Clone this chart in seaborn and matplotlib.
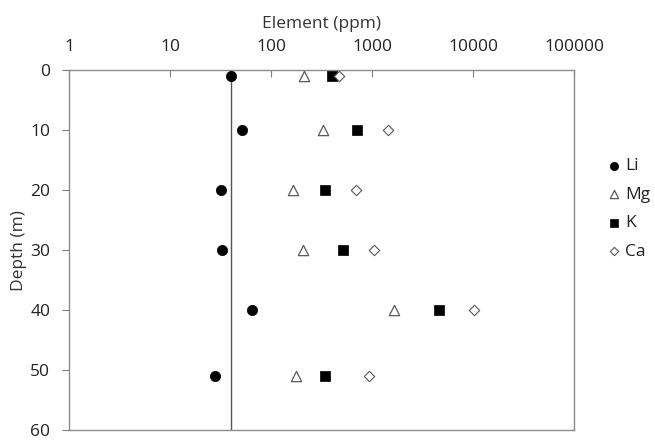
import matplotlib
matplotlib.use("Agg")
import matplotlib.pyplot as plt
import seaborn as sns
import pandas as pd
from matplotlib.ticker import FixedLocator, FixedFormatter, NullLocator

# ---- data ----
depth = [1, 10, 20, 30, 40, 51]
li = [40, 52, 32, 33, 65, 28]
mg = [212, 327, 167, 209, 1637, 175]
k = [402, 710, 342, 516, 4607, 340]
ca = [467, 1428, 700, 1038, 10300, 940]
elements = ["Li", "Mg", "K", "Ca"]
line_x = [40, 40]
line_depth = [0, 60]
x_ticks = [1, 10, 100, 1000, 10000, 100000]
x_tick_labels = ["1", "10", "100", "1000", "10000", "100000"]
y_ticks = [0, 10, 20, 30, 40, 50, 60]

sns.set_theme(style="white")
plt.rcParams["font.family"] = ["Open Sans", "DejaVu Sans"]

FS = 12.5
fig = plt.figure(figsize=(6.55, 4.41), dpi=100)
ax = fig.add_axes([0.1053, 0.024, 0.771, 0.817])

series = {"Li": li, "Mg": mg, "K": k, "Ca": ca}
styles = {
    "Li": dict(marker="o", s=55, color="black", edgecolor="black", linewidth=0.5),
    "Mg": dict(marker="^", s=55, color="white", edgecolor="#5a5a5a", linewidth=0.9),
    "K": dict(marker="s", s=50, color="black", edgecolor="black", linewidth=0.5),
    "Ca": dict(marker="D", s=28, color="white", edgecolor="#5a5a5a", linewidth=0.8),
}

ax.plot(line_x, line_depth, color="#555555", linewidth=1.0, zorder=1)

for name in elements:
    df = pd.DataFrame({"x": series[name], "depth": depth})
    sns.scatterplot(data=df, x="x", y="depth", ax=ax, label=name, zorder=3,
                    **styles[name])

ax.set_xscale("log")
ax.set_xlim(1, 100000)
ax.set_ylim(60, 0)
ax.xaxis.set_major_locator(FixedLocator(x_ticks))
ax.xaxis.set_major_formatter(FixedFormatter(x_tick_labels))
ax.xaxis.set_minor_locator(NullLocator())
ax.set_yticks(y_ticks)

ax.xaxis.tick_top()
ax.xaxis.set_label_position("top")
ax.set_xlabel("Element (ppm)", fontsize=FS, color="#333333", labelpad=8)
ax.set_ylabel("Depth (m)", fontsize=FS, color="#333333", labelpad=2)

ax.tick_params(axis="x", which="major", direction="in", length=5, width=0.8,
               color="#7f7f7f", labelsize=FS, labelcolor="#222222", pad=11,
               top=True, bottom=False)
ax.tick_params(axis="y", which="major", direction="out", length=5, width=0.8,
               color="#7f7f7f", labelsize=FS, labelcolor="#222222", pad=8.5,
               left=True)

for sp in ax.spines.values():
    sp.set_color("#8c8c8c")
    sp.set_linewidth(1.0)

leg = ax.legend(loc="upper left", bbox_to_anchor=(1.037, 0.79), frameon=False,
                fontsize=FS, handletextpad=0.05, labelspacing=0.72,
                markerscale=0.8, handlelength=1.1, borderpad=0.2)
for t in leg.get_texts():
    t.set_color("#222222")

fig.savefig("out.png", dpi=100)
